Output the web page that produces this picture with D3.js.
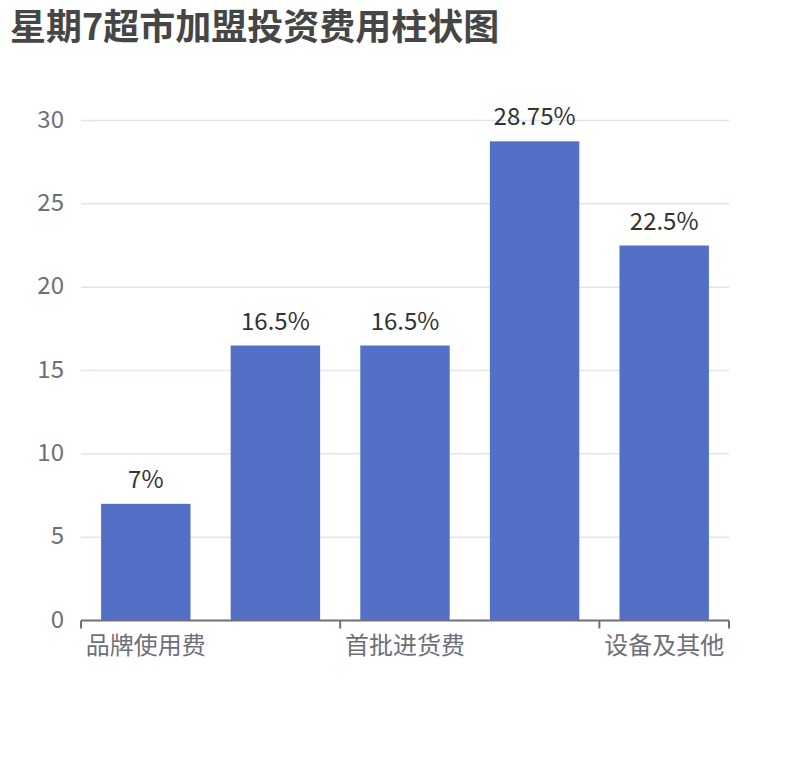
<!DOCTYPE html>
<html>
<head>
<meta charset="utf-8">
<script src="https://cdn.jsdelivr.net/npm/d3@7"></script>
<style>
  html, body { margin: 0; padding: 0; background: #fff; }
  svg { display: block; }
  text { font-family: "Noto Sans CJK SC", "Noto Sans", sans-serif; }
</style>
</head>
<body>
<div id="chart"></div>
<script>
const titleText = "星期7超市加盟投资费用柱状图";
const categories = ["品牌使用费", "装修费用", "首批进货费", "房租及人工", "设备及其他"];
const values = [7, 16.5, 16.5, 28.75, 22.5];
const yTicks = [0, 5, 10, 15, 20, 25, 30];

const W = 810, H = 760;
const margin = { left: 81, right: 81, top: 120.5, bottom: 139.5 };

const svg = d3.select("#chart").append("svg")
  .attr("width", W).attr("height", H);

svg.append("text")
  .attr("x", 10).attr("y", 40)
  .attr("font-size", 36)
  .attr("font-weight", "bold")
  .attr("fill", "#464646")
  .text(titleText);

const x = d3.scaleBand()
  .domain(categories)
  .range([margin.left, W - margin.right])
  .padding(0);

const y = d3.scaleLinear()
  .domain([0, 30])
  .range([H - margin.bottom, margin.top]);

// grid lines
svg.append("g").selectAll("line")
  .data(yTicks.filter(d => d !== 0))
  .join("line")
  .attr("x1", margin.left).attr("x2", W - margin.right)
  .attr("y1", d => y(d)).attr("y2", d => y(d))
  .attr("stroke", "#E0E6F1").attr("stroke-width", 1.5);

// y labels
svg.append("g").selectAll("text")
  .data(yTicks)
  .join("text")
  .attr("x", 64)
  .attr("y", d => y(d))
  .attr("dy", "0.3em")
  .attr("text-anchor", "end")
  .attr("font-size", 24)
  .attr("fill", "#6E7079")
  .text(d => d);

// bars
const barW = x.bandwidth() * 0.69;
svg.append("g").selectAll("rect")
  .data(values)
  .join("rect")
  .attr("x", (d, i) => x(categories[i]) + (x.bandwidth() - barW) / 2)
  .attr("width", barW)
  .attr("y", d => y(d))
  .attr("height", d => y(0) - y(d))
  .attr("fill", "#5470C6");

// bar labels
svg.append("g").selectAll("text")
  .data(values)
  .join("text")
  .attr("x", (d, i) => x(categories[i]) + x.bandwidth() / 2)
  .attr("y", d => y(d) - 16)
  .attr("text-anchor", "middle")
  .attr("font-size", 24)
  .attr("fill", "#333")
  .text(d => d + "%");

// x axis line
const axisY = y(0);
svg.append("line")
  .attr("x1", margin.left).attr("x2", W - margin.right)
  .attr("y1", axisY).attr("y2", axisY)
  .attr("stroke", "#6E7079").attr("stroke-width", 2);

// ticks at boundaries of labelled categories (interval 1) and end
const interval = 2;
const tickXs = categories.map((c, i) => i).filter(i => i % interval === 0).map(i => x(categories[i]));
tickXs.push(W - margin.right);
svg.append("g").selectAll("line")
  .data(tickXs)
  .join("line")
  .attr("x1", d => d).attr("x2", d => d)
  .attr("y1", axisY).attr("y2", axisY + 8)
  .attr("stroke", "#6E7079").attr("stroke-width", 2);

// x labels (every other)
svg.append("g").selectAll("text")
  .data(categories.filter((c, i) => i % interval === 0))
  .join("text")
  .attr("x", c => x(c) + x.bandwidth() / 2)
  .attr("y", axisY + 33)
  .attr("text-anchor", "middle")
  .attr("font-size", 24)
  .attr("fill", "#6E7079")
  .text(c => c);
</script>
</body>
</html>
